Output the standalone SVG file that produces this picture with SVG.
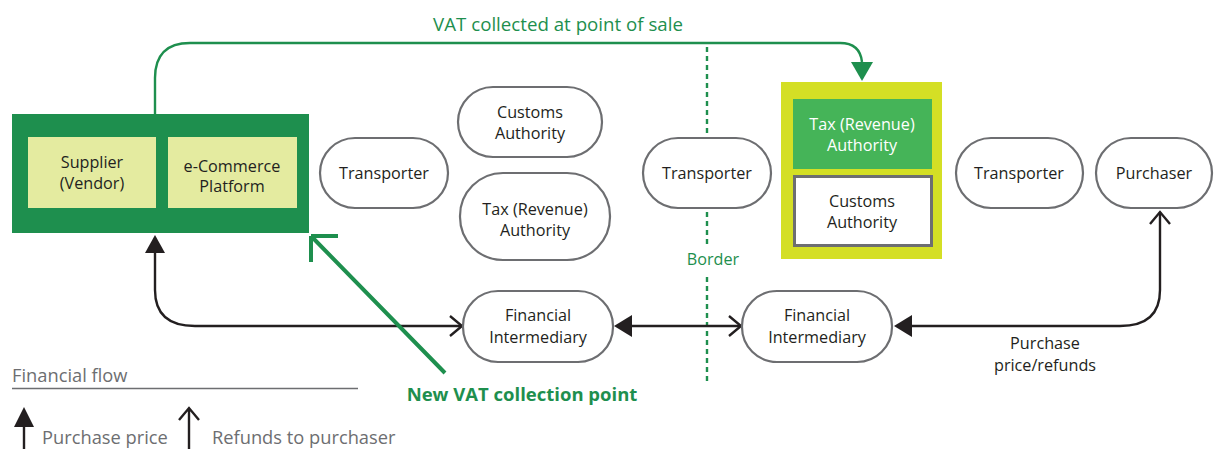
<svg xmlns="http://www.w3.org/2000/svg" width="1214" height="449" viewBox="0 0 1214 449">
<style>
text{font-family:"Open Sans","Liberation Sans",sans-serif;font-size:16.2px;fill:#231f20;text-anchor:middle}
.pill{fill:#fff;stroke:#6d6e71;stroke-width:2.2}
.g{fill:#1e8f4e}
.flow{fill:none;stroke:#231f20;stroke-width:2.4}
.gline{fill:none;stroke:#1e8f4e;stroke-width:2.4}
.leg{fill:#6d6e71;text-anchor:start;font-size:18.3px}
</style>

<g id="connectors">
<!-- VAT collected at point of sale -->
<path class="gline" d="M155,114 V78 Q155,43 190,43 H840 Q860,43 862,62"/>
<path d="M851,62 L873,62 L862,81 Z" class="g"/>
<!-- border -->
<path d="M707,47 V137 M707,212 V246 M707,277 V384" stroke="#1e8f4e" stroke-width="2.4" stroke-dasharray="5,4" fill="none"/>
<!-- left financial flow -->
<path class="flow" d="M155,252 V290 Q155,326 195,326 H461"/>
<path d="M145,253 L155,235 L165,253 Z" fill="#231f20"/>
<path d="M450,316 L462,326 L450,336" fill="none" stroke="#231f20" stroke-width="2.4"/>
<!-- between FIs -->
<path class="flow" d="M630,326 H740"/>
<path d="M632,315 L614,326 L632,337 Z" fill="#231f20"/>
<path d="M729,316 L741,326 L729,336" fill="none" stroke="#231f20" stroke-width="2.4"/>
<!-- purchaser flow -->
<path class="flow" d="M910,326 H1120 Q1160,326 1160,290 V212"/>
<path d="M912,315 L894,326 L912,337 Z" fill="#231f20"/>
<path d="M1150,224 L1160,212 L1170,224" fill="none" stroke="#231f20" stroke-width="2.4"/>
<!-- new VAT collection point arrow -->
<path d="M445,373 L312,237 M311,236 H338 M311,236 V262" fill="none" stroke="#1e8f4e" stroke-width="4"/>
</g>

<g id="seller">
<rect x="12" y="114" width="297" height="119" class="g"/>
<rect x="28" y="137" width="128" height="71" fill="#e4eba0"/>
<rect x="168" y="137" width="129" height="71" fill="#e4eba0"/>
<text x="92" y="168">Supplier</text>
<text x="92" y="189">(Vendor)</text>
<text x="232" y="172">e-Commerce</text>
<text x="232" y="192">Platform</text>
</g>

<g id="transporter1">
<rect class="pill" x="320" y="138" width="128" height="70" rx="35"/>
<text x="384" y="179">Transporter</text>
</g>
<g id="customs1">
<rect class="pill" x="458" y="87" width="144" height="70" rx="35"/>
<text x="530" y="118">Customs</text>
<text x="530" y="139">Authority</text>
</g>
<g id="tax1">
<rect class="pill" x="460" y="173" width="150" height="87" rx="43"/>
<text x="535" y="215">Tax (Revenue)</text>
<text x="535" y="236">Authority</text>
</g>
<g id="transporter2">
<rect class="pill" x="643" y="138" width="128" height="70" rx="35"/>
<text x="707" y="179">Transporter</text>
</g>
<text x="713" y="265" style="fill:#1e8f4e">Border</text>

<g id="destination-authorities">
<rect x="781" y="82" width="161" height="177" fill="#d4df25"/>
<rect x="793" y="99" width="139" height="70" fill="#45b458"/>
<rect x="794.5" y="176.5" width="137" height="69" fill="#fff" stroke="#6d6e71" stroke-width="3"/>
<text x="862" y="130" style="fill:#fff">Tax (Revenue)</text>
<text x="862" y="151" style="fill:#fff">Authority</text>
<text x="862" y="207">Customs</text>
<text x="862" y="228">Authority</text>
</g>
<g id="transporter3">
<rect class="pill" x="956" y="138" width="127" height="70" rx="35"/>
<text x="1019" y="179">Transporter</text>
</g>
<g id="purchaser">
<rect class="pill" x="1096" y="138" width="116" height="70" rx="35"/>
<text x="1154" y="179">Purchaser</text>
</g>
<g id="fi1">
<rect class="pill" x="463" y="291" width="150" height="71" rx="35"/>
<text x="538" y="321">Financial</text>
<text x="538" y="343">Intermediary</text>
</g>
<g id="fi2">
<rect class="pill" x="742" y="291" width="150" height="71" rx="35"/>
<text x="817" y="321">Financial</text>
<text x="817" y="343">Intermediary</text>
</g>

<text x="558" y="31" style="fill:#1e8f4e;font-size:18.7px">VAT collected at point of sale</text>
<text x="522" y="401" style="fill:#1e8f4e;font-size:18.5px;font-weight:bold">New VAT collection point</text>
<text x="1045" y="349">Purchase</text>
<text x="1045" y="371">price/refunds</text>

<g id="legend">
<text x="12" y="382" class="leg">Financial flow</text>
<line x1="12" y1="388.5" x2="358" y2="388.5" stroke="#6d6e71" stroke-width="1.6"/>
<path d="M24,449 V418" stroke="#231f20" stroke-width="2.4"/>
<path d="M14,427 L24,407 L34,427 Z" fill="#231f20"/>
<text x="42" y="444" class="leg">Purchase price</text>
<path d="M189,449 V408 M179,420 L189,408 L199,420" fill="none" stroke="#231f20" stroke-width="2.4"/>
<text x="212" y="444" class="leg">Refunds to purchaser</text>
</g>
</svg>
